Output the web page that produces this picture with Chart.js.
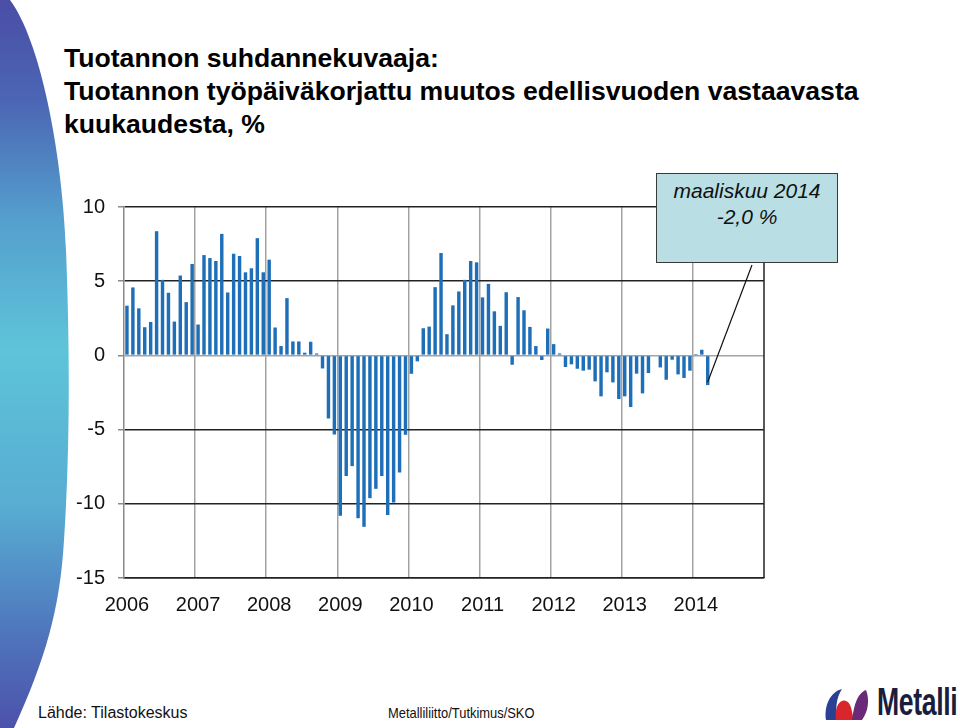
<!DOCTYPE html>
<html lang="fi">
<head>
<meta charset="utf-8">
<title>Tuotannon suhdannekuvaaja</title>
<script src="https://cdn.jsdelivr.net/npm/chart.js@4.4.1/dist/chart.umd.min.js"></script>
<style>
  html, body { margin: 0; padding: 0; background: #fff; }
  body { width: 960px; height: 728px; position: relative; overflow: hidden; font-family: "Liberation Sans", Arial, sans-serif; }
  #deco { position: absolute; left: 0; top: 0; }
  #title { position: absolute; left: 64px; top: 42px; font-weight: bold; font-size: 26.6px; line-height: 33px; color: #000; white-space: nowrap; }
  #wrap { position: absolute; left: 0; top: 170px; width: 800px; height: 460px; }
  #note { position: absolute; left: 656px; top: 173px; width: 180px; height: 84px; background: #b9dfe4; border: 1.5px solid #3a3a3a;
          font-style: italic; font-size: 21px; text-align: center; line-height: 26px; padding-top: 4px; color: #111; }
  #src { position: absolute; left: 38px; top: 704px; font-size: 16px; color: #111; }
  #org { position: absolute; left: 388px; top: 704px; font-size: 15px; color: #111; transform: scaleX(0.86); transform-origin: left; }
  #logo { position: absolute; left: 822px; top: 686px; }
  #brand { position: absolute; left: 877px; top: 681px; font-size: 38px; font-weight: bold; color: #1b1d3d; transform: scaleX(0.7); transform-origin: left; letter-spacing: -0.5px; }
</style>
</head>
<body>
<svg id="deco" width="80" height="728" viewBox="0 0 80 728">
  <defs>
    <linearGradient id="g" x1="0" y1="0" x2="0" y2="1">
      <stop offset="0" stop-color="#4a4ea6"/>
      <stop offset="0.14" stop-color="#4b66b4"/>
      <stop offset="0.3" stop-color="#549fcd"/>
      <stop offset="0.48" stop-color="#5ec4d9"/>
      <stop offset="0.7" stop-color="#57acd2"/>
      <stop offset="0.88" stop-color="#4f72bb"/>
      <stop offset="1" stop-color="#4c52aa"/>
    </linearGradient>
  </defs>
  <path d="M0,0 L10,0 C40,40 62,150 66,250 C70,350 70,450 64,540 C60,610 45,660 14,728 L0,728 Z" fill="url(#g)"/>
</svg>

<div id="title">Tuotannon suhdannekuvaaja:<br>Tuotannon työpäiväkorjattu muutos edellisvuoden vastaavasta<br>kuukaudesta, %</div>

<div id="wrap"><canvas id="chart"></canvas></div>

<div id="note">maaliskuu 2014<br>-2,0 %</div>

<div id="src">Lähde: Tilastokeskus</div>
<div id="org">Metalliliitto/Tutkimus/SKO</div>
<svg id="logo" width="52" height="38" viewBox="0 0 52 38">
  <path d="M4,34 C2,20 8,6 20,3 C14,12 13,24 16,34 Z" fill="#2b3f93"/>
  <path d="M14,34 C12,22 18,10 26,16 C30,20 30,28 32,34 Z" fill="#d8262c"/>
  <path d="M30,34 C32,22 34,8 44,4 C48,14 46,26 40,34 Z" fill="#6a2a78"/>
</svg>
<div id="brand">Metalli</div>

<script>
// years on the axis, Jan 2006 .. Dec 2014 (data runs to Mar 2014)
const years = ['2006', '2007', '2008', '2009', '2010', '2011', '2012', '2013', '2014'];

// monthly change, %
const v2006 = [3.35, 4.58, 3.17, 1.90, 2.25, 8.37, 5.09, 4.22, 2.28, 5.38, 3.59, 6.16];
const v2007 = [2.08, 6.76, 6.56, 6.36, 8.19, 4.24, 6.85, 6.70, 5.60, 5.87, 7.90, 5.60];
const v2008 = [6.45, 1.88, 0.63, 3.86, 0.94, 0.94, 0.18, 0.92, 0.13, -0.88, -4.25, -5.33];
const v2009 = [-10.8, -8.13, -7.46, -10.97, -11.55, -9.62, -8.99, -8.13, -10.76, -9.91, -7.89, -5.35];
const v2010 = [-1.24, -0.40, 1.83, 1.94, 4.60, 6.90, 1.43, 3.37, 4.31, 5.09, 6.36, 6.27];
const v2011 = [3.91, 4.82, 2.97, 1.99, 4.26, -0.63, 3.93, 3.04, 1.92, 0.63, -0.31, 1.81];
const v2012 = [0.76, 0.13, -0.78, -0.60, -0.90, -1.03, -0.96, -1.75, -2.76, -1.14, -1.82, -2.94];
const v2013 = [-2.76, -3.48, -1.23, -2.56, -1.19, 0.0, -0.81, -1.64, -0.29, -1.28, -1.52, -1.03];
const v2014 = [0.09, 0.38, -2.0];

const yTicks = [-15, -10, -5, 0, 5, 10];

// build category list: 12 slots per year, label only on January
const labels = [];
years.forEach(y => { for (let m = 0; m < 12; m++) labels.push(m === 0 ? y : ''); });
const values = [].concat(v2006, v2007, v2008, v2009, v2010, v2011, v2012, v2013, v2014);

// right border + leader line from the note box to the last bar
const extras = {
    id: 'extras',
    afterDatasetsDraw(chart) {
        const { ctx, chartArea, scales } = chart;
        ctx.save();
        ctx.strokeStyle = '#222';
        ctx.lineWidth = 1.5;
        ctx.beginPath();
        ctx.moveTo(chartArea.right, chartArea.top);
        ctx.lineTo(chartArea.right, chartArea.bottom);
        ctx.stroke();

        const last = values.length - 1;
        const ex = scales.x.getPixelForValue(last);
        const ey = scales.y.getPixelForValue(values[last]) - 3;
        ctx.lineWidth = 1.2;
        ctx.strokeStyle = '#111';
        ctx.beginPath();
        ctx.moveTo(752, 265 - 170); // bottom edge of note box, canvas coords
        ctx.lineTo(ex, ey);
        ctx.stroke();
        ctx.restore();
    }
};

const ctx = document.getElementById('chart').getContext('2d');
new Chart(ctx, {
    type: 'bar',
    data: {
        labels: labels,
        datasets: [{
            data: values,
            backgroundColor: '#1f6fb8',
            borderWidth: 0,
            barPercentage: 0.58,
            categoryPercentage: 1.0
        }]
    },
    options: {
        responsive: true,
        maintainAspectRatio: false,
        animation: false,
        layout: { padding: { left: 0, top: 37, right: 36, bottom: 0 } },
        plugins: { legend: { display: false }, tooltip: { enabled: false } },
        scales: {
            x: {
                offset: true,
                afterFit(scale) { scale.height = 52; },
                grid: {
                    offset: true,
                    drawTicks: false,
                    lineWidth: 1.5,
                    color: c => (c.index !== undefined && c.index % 12 === 0 && c.index > 0) ? '#a3a3a3' : 'rgba(0,0,0,0)'
                },
                border: { color: '#222', width: 1.5 },
                ticks: {
                    autoSkip: false,
                    maxRotation: 0,
                    minRotation: 0,
                    padding: 15,
                    color: '#111',
                    font: { family: 'Liberation Sans', size: 20 }
                }
            },
            y: {
                min: -15,
                max: 10,
                afterFit(scale) { scale.width = 124; },
                afterBuildTicks(scale) { scale.ticks = yTicks.map(v => ({ value: v })); },
                grid: {
                    lineWidth: 1.5,
                    tickLength: 6,
                    tickColor: '#8a8a8a',
                    color: c => c.tick && c.tick.value === 0 ? '#a3a3a3' : '#222'
                },
                border: { color: '#8a8a8a', width: 1.5 },
                ticks: {
                    padding: 13,
                    color: '#111',
                    font: { family: 'Liberation Sans', size: 20 }
                }
            }
        }
    },
    plugins: [extras]
});
</script>
</body>
</html>
